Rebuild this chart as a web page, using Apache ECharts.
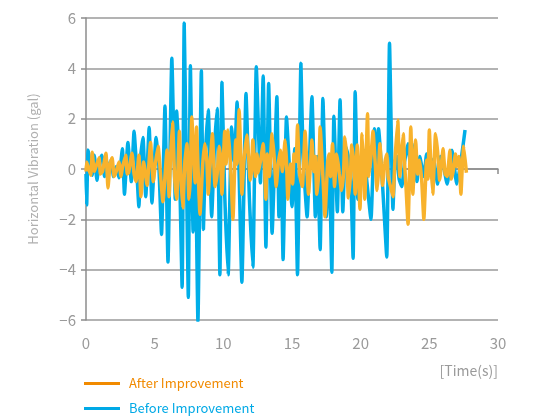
<!DOCTYPE html>
<html><head><meta charset="utf-8">
<script src="https://cdn.jsdelivr.net/npm/echarts@6/dist/echarts.min.js"></script>
<style>html,body{margin:0;padding:0;background:#fff}#c{width:535px;height:417px}</style>
</head><body><div id="c"></div>
<script>
const xTicks = [0, 5, 10, 15, 20, 25, 30];
const yTicks = [-6, -4, -2, 0, 2, 4, 6];
const seriesNames = ['After Improvement', 'Before Improvement'];

const beforeTime = [0.0,0.05,0.15,0.3,0.45,0.6,0.8,0.95,1.15,1.35,1.5,1.65,1.85,2.0,2.2,2.4,2.65,2.8,3.05,3.3,3.5,3.7,3.85,4.0,4.15,4.35,4.6,4.8,5.1,5.3,5.5,5.75,5.97,6.25,6.5,6.6,6.8,7.0,7.15,7.3,7.45,7.6,7.8,7.95,8.15,8.4,8.55,8.7,8.9,9.15,9.35,9.55,9.75,9.9,10.1,10.35,10.6,10.8,11.0,11.35,11.65,11.9,12.15,12.4,12.7,12.9,13.1,13.3,13.55,13.9,14.05,14.2,14.35,14.6,14.8,15.0,15.2,15.4,15.65,15.8,16.1,16.45,16.7,16.85,17.05,17.25,17.5,17.7,17.9,18.05,18.3,18.5,18.7,18.9,19.1,19.3,19.45,19.6,19.8,20.0,20.2,20.45,20.75,21.0,21.15,21.3,21.6,21.9,22.1,22.35,22.5,22.65,22.8,23.0,23.2,23.45,23.7,23.95,24.1,24.3,24.6,24.8,25.0,25.3,25.6,25.8,26.0,26.3,26.65,27.0,27.3,27.6];
const beforeValue = [-0.2,-1.43,0.75,0.2,-0.25,0.55,-0.45,0.3,0.55,-0.3,0.35,-0.1,0.4,-0.3,0.1,-0.35,0.8,-1.0,1.05,-0.5,1.5,-0.1,-1.5,0.6,1.25,-1.1,1.65,-1.35,1.25,0.2,-2.6,2.5,-3.7,4.4,-1.2,2.3,0.2,-4.7,5.8,0.5,-5.1,4.1,-2.5,1.0,-6.05,3.9,-2.4,0.6,2.35,-1.9,0.8,2.4,-4.2,3.45,-1.0,-4.2,1.67,0.3,2.66,-4.5,3.0,-1.2,-3.9,4.06,-0.55,3.7,-3.1,3.4,-2.55,2.87,-1.9,0.5,-3.6,2.07,0.2,-1.5,0.8,-4.2,4.2,0.6,-1.9,2.87,-1.9,0.5,-3.2,2.8,-1.9,0.4,-4.1,2.1,-1.7,2.75,-1.7,0.9,0.5,-0.8,-3.55,3.07,-1.2,0.3,0.75,-0.5,-2.0,1.6,0.2,1.6,-0.7,-3.5,5.0,-1.6,0.3,0.5,-0.4,-0.7,0.3,1.0,-0.3,1.0,-0.5,0.5,-0.3,0.6,-0.2,0.4,-0.6,0.5,0.2,-0.6,0.75,-0.6,0.3,1.55];

const afterTime = [0.0,0.05,0.2,0.35,0.45,0.6,0.7,0.95,1.05,1.2,1.45,1.6,1.75,1.9,2.05,2.2,2.4,2.55,2.65,2.9,3.0,3.1,3.35,3.5,3.65,3.85,4.0,4.2,4.45,4.7,4.9,5.05,5.25,5.45,5.6,5.9,6.05,6.15,6.3,6.45,6.6,6.8,6.9,7.05,7.2,7.35,7.5,7.6,7.7,7.95,8.05,8.15,8.3,8.5,8.65,8.8,8.9,9.05,9.2,9.4,9.55,9.7,9.8,9.9,10.1,10.2,10.35,10.5,10.6,10.7,10.9,11.0,11.15,11.25,11.35,11.5,11.7,11.85,11.95,12.05,12.15,12.35,12.45,12.55,12.7,12.9,13.1,13.2,13.35,13.55,13.7,13.85,14.0,14.15,14.3,14.5,14.6,14.7,14.9,15.05,15.15,15.3,15.4,15.55,15.75,15.85,15.95,16.2,16.35,16.45,16.6,16.7,16.8,16.95,17.05,17.25,17.4,17.6,17.7,17.8,17.95,18.1,18.25,18.35,18.45,18.6,18.75,18.85,19.0,19.1,19.25,19.35,19.5,19.6,19.75,19.95,20.1,20.2,20.3,20.5,20.6,20.75,20.9,21.05,21.2,21.3,21.4,21.6,21.75,21.9,22.0,22.15,22.35,22.5,22.7,22.85,22.95,23.1,23.2,23.3,23.45,23.65,23.8,23.9,24.0,24.15,24.3,24.45,24.6,24.8,24.9,25.0,25.1,25.25,25.35,25.45,25.6,25.75,25.9,26.0,26.15,26.3,26.4,26.5,26.6,26.75,26.9,27.0,27.15,27.3,27.4,27.5,27.7];
const afterValue = [-0.1,0.28,0.0,-0.25,0.67,-0.1,0.05,0.45,-0.2,-0.1,0.63,-0.75,0.2,0.45,-0.3,-0.1,0.28,-0.3,0.05,0.55,-0.2,-0.15,0.63,-0.2,-0.5,0.55,-1.1,0.28,-0.65,1.05,-0.5,0.2,0.9,-0.4,-1.3,0.75,-1.1,0.4,1.87,-0.3,-1.2,1.5,-0.2,-1.55,0.3,1.0,-1.2,-0.3,2.07,-0.55,1.67,0.2,-1.8,0.2,1.0,0.3,-1.0,0.3,1.4,-0.7,-0.2,0.9,0.4,-1.0,1.5,0.2,1.55,0.4,-0.8,-2.0,1.15,0.2,2.35,0.9,-1.0,0.3,1.35,0.4,-0.45,-0.1,1.15,-0.3,0.6,-0.15,0.3,1.0,-1.2,0.6,-0.3,1.4,0.5,-0.7,0.2,0.75,-0.1,1.15,0.3,-1.2,0.2,-0.6,0.6,0.3,1.75,-0.2,-0.7,0.3,1.5,-1.0,0.2,1.15,-0.1,0.5,-1.0,-0.2,1.67,-0.3,-1.9,0.3,0.6,-0.3,1.0,-0.7,0.6,0.25,-0.2,-0.85,-0.2,1.27,0.3,-1.15,-0.3,0.95,0.2,-1.0,0.95,-1.6,1.4,0.3,-1.2,2.2,-0.3,0.5,1.5,0.3,-0.85,-0.1,1.0,-0.65,0.2,0.6,-0.3,-0.65,-1.1,0.4,1.95,-0.3,0.5,1.4,0.2,-0.7,-2.2,1.67,-1.0,0.1,1.15,-0.2,0.35,-0.5,-2.0,0.35,-0.4,1.55,0.3,-1.0,0.2,1.4,0.7,-0.45,0.3,0.8,-0.2,-0.3,0.2,0.75,-0.4,-0.05,0.6,0.1,0.5,-1.0,0.1,0.9,-0.15];

const zip = (t, v) => t.map((x, i) => [x, v[i]]);
const FONT = '"Noto Sans CJK JP", "Noto Sans", sans-serif';
const chart = echarts.init(document.getElementById('c'));
chart.setOption({
  animation: false,
  backgroundColor: '#fff',
  grid: { left: 86, right: 37, top: 18, bottom: 97 },
  xAxis: {
    type: 'value', min: xTicks[0], max: xTicks[xTicks.length - 1], interval: 5,
    axisLine: { lineStyle: { color: '#8c8c8c', width: 1.5 } },
    axisTick: { show: true, length: 5, lineStyle: { color: '#8c8c8c', width: 1.5 } },
    axisLabel: { color: '#9a9a9a', fontSize: 15, margin: 16, fontFamily: FONT },
    splitLine: { show: false }
  },
  yAxis: {
    type: 'value', min: yTicks[0], max: yTicks[yTicks.length - 1], interval: 2,
    name: 'Horizontal Vibration (gal)', nameLocation: 'middle', nameGap: 46,
    nameTextStyle: { color: '#b0b0b0', fontSize: 13, fontFamily: FONT },
    axisLine: { show: true, lineStyle: { color: '#8c8c8c', width: 1.5 } },
    axisTick: { show: true, length: 5, lineStyle: { color: '#8c8c8c', width: 1.5 } },
    axisLabel: { color: '#9a9a9a', fontSize: 15, margin: 10, fontFamily: FONT,
      formatter: v => (v < 0 ? '\u2212' + Math.abs(v) : String(v)) },
    splitLine: { show: true, lineStyle: { color: '#9a9a9a', width: 1.5 } }
  },
  legend: {
    orient: 'vertical', left: 84, top: 377, padding: 0, itemGap: 12, itemWidth: 36, itemHeight: 14,
    icon: 'path://M0,5.5 L36,5.5 L36,8.5 L0,8.5 Z',
    textStyle: { fontSize: 13, fontFamily: FONT, padding: [0, 0, 0, 4] },
    data: [
      { name: seriesNames[0], itemStyle: { color: '#f18a00' }, textStyle: { color: '#f18a00' } },
      { name: seriesNames[1], itemStyle: { color: '#00a9e6' }, textStyle: { color: '#00a9e6' } }
    ]
  },
  graphic: [{
    type: 'text', right: 37, top: 364,
    style: { text: '[Time(s)]', fill: '#9a9a9a', fontSize: 14, fontFamily: FONT }
  }],
  series: [
    { name: seriesNames[1], type: 'line', data: zip(beforeTime, beforeValue), showSymbol: false, smooth: 0.15,
      lineStyle: { color: '#00aee8', width: 3.5 }, itemStyle: { color: '#00aee8' }, z: 2 },
    { name: seriesNames[0], type: 'line', data: zip(afterTime, afterValue), showSymbol: false, smooth: 0.15,
      lineStyle: { color: '#f8b22c', width: 3.5 }, itemStyle: { color: '#f8b22c' }, z: 3 }
  ]
});
</script></body></html>
